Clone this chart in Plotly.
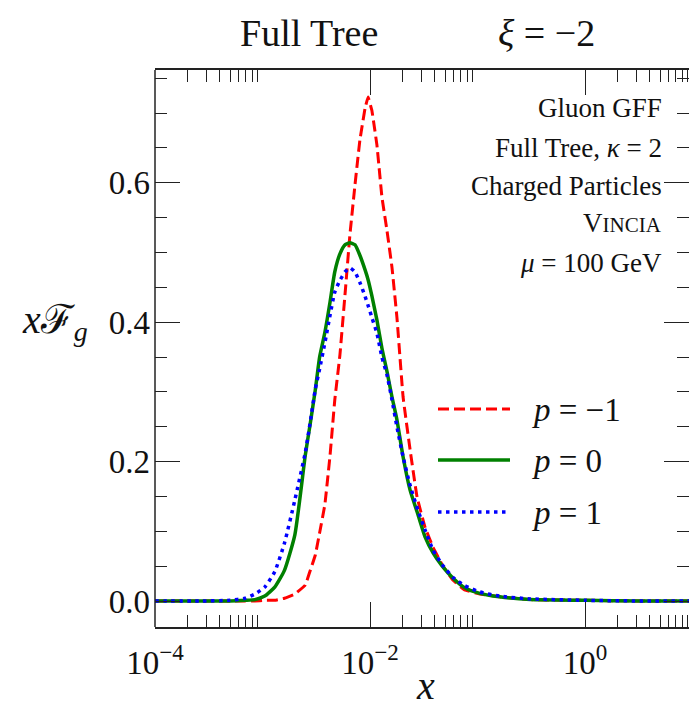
import plotly.graph_objects as go

# Momentum fraction x (log scale) shared by all three curves
x_vals = [1.0e-4, 2.6e-4, 5.0e-4, 6.9e-4, 8.5e-4, 1.05e-3, 1.3e-3, 1.6e-3, 2.0e-3,
          2.5e-3, 2.77e-3, 3.1e-3, 3.4e-3, 3.8e-3, 4.25e-3, 4.7e-3, 5.25e-3, 5.85e-3,
          6.5e-3, 7.25e-3, 8.05e-3, 9.0e-3, 9.6e-3, 1.04e-2, 1.16e-2, 1.29e-2, 1.44e-2,
          1.6e-2, 1.78e-2, 2.03e-2, 2.36e-2, 2.74e-2, 3.25e-2, 3.86e-2, 4.7e-2, 5.9e-2,
          7.6e-2, 0.105, 0.16, 0.31, 1.0, 3.25, 10.0]

# x * F_g for the three values of p
f_pm1 = [0.0, 0.0, 0.0, 0.0, 0.0, 0.001, 0.001, 0.004, 0.010,
         0.023, 0.043, 0.066, 0.098, 0.138, 0.209, 0.288, 0.353, 0.439,
         0.525, 0.597, 0.661, 0.707, 0.723, 0.704, 0.654, 0.580, 0.531,
         0.479, 0.407, 0.293, 0.217, 0.149, 0.106, 0.077, 0.052, 0.030,
         0.016, 0.010, 0.006, 0.002, 0.001, 0.0, 0.0]
f_p0 = [0.0, 0.0, 0.0, 0.001, 0.002, 0.007, 0.020, 0.044, 0.095,
        0.209, 0.253, 0.303, 0.350, 0.385, 0.429, 0.472, 0.498, 0.511,
        0.514, 0.511, 0.496, 0.475, 0.461, 0.438, 0.403, 0.363, 0.329,
        0.293, 0.260, 0.207, 0.159, 0.128, 0.092, 0.069, 0.050, 0.033,
        0.019, 0.011, 0.006, 0.002, 0.001, 0.0, 0.0]
f_p1 = [0.0, 0.0, 0.001, 0.004, 0.010, 0.020, 0.042, 0.083, 0.145,
        0.213, 0.255, 0.304, 0.333, 0.370, 0.410, 0.443, 0.460, 0.472,
        0.478, 0.472, 0.457, 0.437, 0.424, 0.407, 0.384, 0.350, 0.324,
        0.289, 0.250, 0.207, 0.166, 0.134, 0.102, 0.073, 0.052, 0.034,
        0.022, 0.013, 0.007, 0.003, 0.001, 0.0, 0.0]

series_labels = ["<i>p</i> = −1", "<i>p</i> = 0", "<i>p</i> = 1"]
series_data = [f_pm1, f_p0, f_p1]
series_colors = ["#ff0000", "#008000", "#0000ff"]
series_dash = ["11px,5px", "solid", "3.5px,4.5px"]
series_width = [3, 3.5, 3.5]
series_smooth = [0.25, 0.5, 0.5]

x_major = [1e-4, 1e-2, 1.0]
x_major_text = ["10<sup>−4</sup>", "10<sup>−2</sup>", "10<sup>0</sup>"]
x_minor = [m * d for d in (1e-4, 1e-2, 1.0) for m in range(2, 10)]
y_major = [0.0, 0.2, 0.4, 0.6]
y_major_text = ["0.0", "0.2", "0.4", "0.6"]
y_minor = [0.05, 0.1, 0.15, 0.25, 0.3, 0.35, 0.45, 0.5, 0.55, 0.65, 0.7, 0.75]

info_lines = ["Gluon GFF", "Full Tree, <i>κ</i> = 2", "Charged Particles",
              "V<span style='font-size:21px'>INCIA</span>", "<i>μ</i> = 100 GeV"]

W, H = 689, 710
L, T, B = 155, 70, 627
PW, PH = W - L, B - T
FONT = "Liberation Serif"
INK = "#222222"


def px(xp):
    return (xp - L) / PW


def py(yp):
    return (B - yp) / PH


fig = go.Figure()
for lab, ys, col, dash, w, sm in zip(series_labels, series_data, series_colors,
                                     series_dash, series_width, series_smooth):
    fig.add_trace(go.Scatter(x=x_vals, y=ys, mode="lines", name=lab,
                             line=dict(color=col, dash=dash, width=w,
                                       shape="spline", smoothing=sm),
                             showlegend=False))

axis_common = dict(showgrid=False, zeroline=False, ticks="inside",
                   tickcolor=INK, tickwidth=1.3, ticklen=25,
                   tickfont=dict(family=FONT, size=33, color="#111"))

fig.update_layout(
    width=W, height=H,
    margin=dict(l=L, r=0, t=T, b=H - B, pad=0),
    plot_bgcolor="white", paper_bgcolor="white",
    font=dict(family=FONT, color="#111"),
    xaxis=dict(type="log", range=[-4, -4 + PW / 107.5],
               tickmode="array", tickvals=x_major, ticktext=x_major_text,
               showline=True, linecolor=INK, linewidth=1.5, mirror="ticks",
               minor=dict(tickmode="array", tickvals=x_minor, ticks="inside",
                          ticklen=12, tickcolor=INK, tickwidth=1.2),
               ticklabelstandoff=6,
               **axis_common),
    yaxis=dict(range=[-0.0373, 0.7618],
               tickmode="array", tickvals=y_major, ticktext=y_major_text,
               showline=False, mirror="ticks",
               minor=dict(tickmode="array", tickvals=y_minor, ticks="inside",
                          ticklen=12, tickcolor=INK, tickwidth=1.2),
               ticklabelstandoff=4,
               **axis_common),
)

# left spine
fig.add_shape(type="line", xref="paper", yref="paper", x0=0, x1=0, y0=0, y1=1,
              line=dict(color=INK, width=1.5))

# legend samples and labels
legend_y = [409, 460, 512]
for ly, lab, col, dash, w in zip(legend_y, series_labels, series_colors,
                                 series_dash, series_width):
    fig.add_shape(type="line", xref="paper", yref="paper",
                  x0=px(438), x1=px(510), y0=py(ly), y1=py(ly),
                  line=dict(color=col, dash=dash, width=w))
    fig.add_annotation(x=px(530), y=py(ly + 1), xref="paper", yref="paper",
                       text=lab, showarrow=False, xanchor="left", yanchor="middle",
                       font=dict(family=FONT, size=33, color="#111"))

# information block
info_y = [108, 148, 186, 223, 263]
for iy, txt in zip(info_y, info_lines):
    fig.add_annotation(x=px(664), y=py(iy), xref="paper", yref="paper",
                       text=txt, showarrow=False, xanchor="right", yanchor="middle",
                       font=dict(family=FONT, size=27, color="#111"))

# titles
fig.add_annotation(x=px(309), y=py(33), xref="paper", yref="paper",
                   text="Full Tree", showarrow=False, xanchor="center",
                   yanchor="middle", font=dict(family=FONT, size=38, color="#111"))
fig.add_annotation(x=px(546), y=py(33), xref="paper", yref="paper",
                   text="<i>ξ</i> = −2", showarrow=False, xanchor="center",
                   yanchor="middle", font=dict(family=FONT, size=38, color="#111"))

# axis labels
fig.add_annotation(x=px(55), y=py(322), xref="paper", yref="paper",
                   text="<i>x</i>ℱ<sub><i>g</i></sub>", showarrow=False,
                   xanchor="center", yanchor="middle",
                   font=dict(family=FONT, size=40, color="#111"))
fig.add_annotation(x=px(425), y=py(685), xref="paper", yref="paper",
                   text="<i>x</i>", showarrow=False, xanchor="center",
                   yanchor="middle", font=dict(family=FONT, size=40, color="#111"))

fig.write_html("out.html")
